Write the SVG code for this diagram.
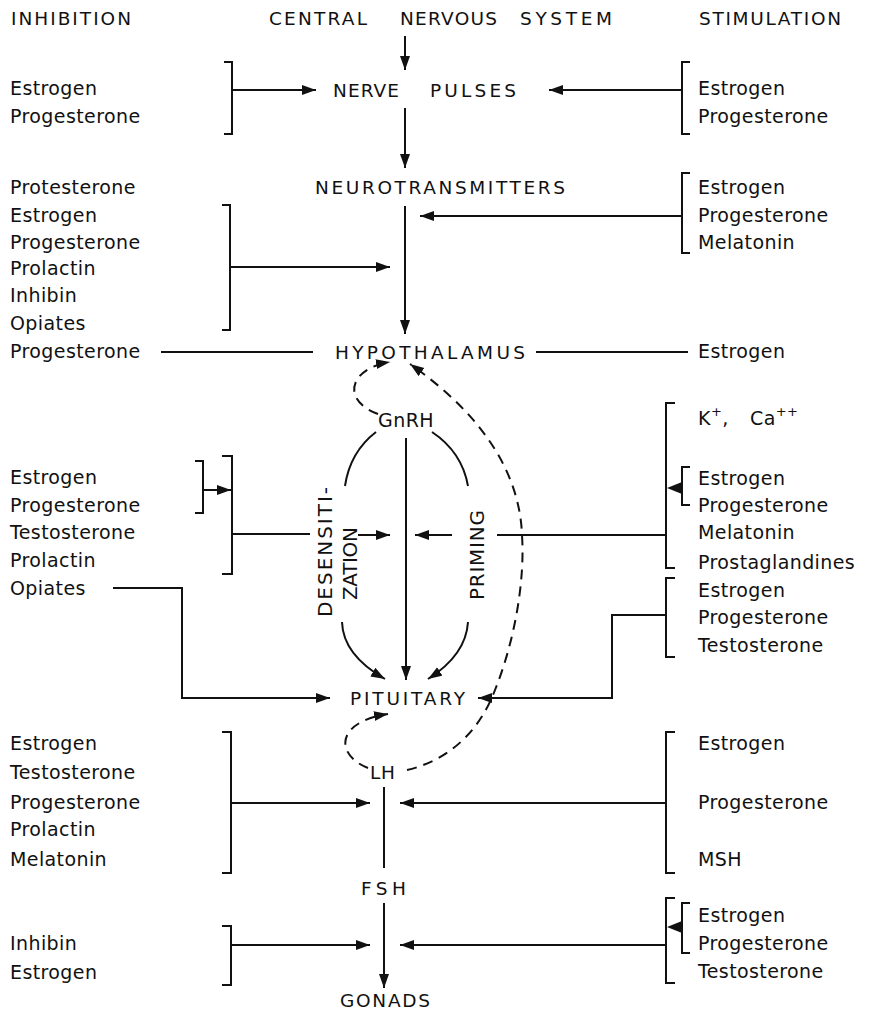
<svg xmlns="http://www.w3.org/2000/svg" width="873" height="1011" viewBox="0 0 873 1011">
<defs>
<marker id="ah" markerUnits="userSpaceOnUse" markerWidth="16" markerHeight="12" refX="14" refY="5" orient="auto">
<path d="M0,0 L14,5 L0,10 z" fill="#111"/>
</marker>
<style>
.t{font-family:"DejaVu Sans",sans-serif;font-size:19px;letter-spacing:0.4px;fill:#111}
.u{font-family:"DejaVu Sans",sans-serif;font-size:18.5px;fill:#111}
.r{font-family:"DejaVu Sans",sans-serif;font-size:20px;fill:#111}
.l{fill:none;stroke:#111;stroke-width:2}
.a{fill:none;stroke:#111;stroke-width:2;marker-end:url(#ah)}
.d{fill:none;stroke:#111;stroke-width:2;stroke-dasharray:10 7;marker-end:url(#ah)}
.f{fill:#111}
</style>
</defs>
<rect width="873" height="1011" fill="#fff"/>

<g id="headers">
<text class="u" x="11" y="25" textLength="120" lengthAdjust="spacing">INHIBITION</text>
<text class="u" x="269" y="25" textLength="98" lengthAdjust="spacing">CENTRAL</text>
<text class="u" x="400" y="25" textLength="97" lengthAdjust="spacing">NERVOUS</text>
<text class="u" x="520" y="25" textLength="92" lengthAdjust="spacing">SYSTEM</text>
<text class="u" x="699" y="25" textLength="142" lengthAdjust="spacing">STIMULATION</text>
</g>

<g id="nerve-pulses">
<text class="u" x="333" y="97" textLength="66" lengthAdjust="spacing">NERVE</text>
<text class="u" x="430" y="97" textLength="86" lengthAdjust="spacing">PULSES</text>
</g>
<g id="neurotransmitters">
<text class="u" x="315" y="194" textLength="250" lengthAdjust="spacing">NEUROTRANSMITTERS</text>
</g>
<g id="hypothalamus">
<text class="u" x="335" y="359" textLength="190" lengthAdjust="spacing">HYPOTHALAMUS</text>
</g>
<g id="gnrh">
<text class="t" x="406" y="427" text-anchor="middle">GnRH</text>
</g>
<g id="desensitization">
<text class="r" transform="translate(332,617) rotate(-90)" textLength="130" lengthAdjust="spacing">DESENSITI-</text>
<text class="r" transform="translate(357,600) rotate(-90)" textLength="73" lengthAdjust="spacing">ZATION</text>
</g>
<g id="priming">
<text class="r" transform="translate(484,600) rotate(-90)" textLength="90" lengthAdjust="spacing">PRIMING</text>
</g>
<g id="pituitary">
<text class="u" x="350" y="705" textLength="115" lengthAdjust="spacing">PITUITARY</text>
</g>
<g id="lh">
<text class="u" x="370" y="779" textLength="25" lengthAdjust="spacing">LH</text>
</g>
<g id="fsh">
<text class="u" x="361" y="895" textLength="45" lengthAdjust="spacing">FSH</text>
</g>
<g id="gonads">
<text class="u" x="340" y="1007" textLength="90" lengthAdjust="spacing">GONADS</text>
</g>

<g id="inhibitors">
<text class="t" x="10" y="95">Estrogen</text>
<text class="t" x="10" y="123">Progesterone</text>
<text class="t" x="10" y="194">Protesterone</text>
<text class="t" x="10" y="222">Estrogen</text>
<text class="t" x="10" y="249">Progesterone</text>
<text class="t" x="10" y="275">Prolactin</text>
<text class="t" x="10" y="302">Inhibin</text>
<text class="t" x="10" y="330">Opiates</text>
<text class="t" x="10" y="358">Progesterone</text>
<text class="t" x="10" y="484">Estrogen</text>
<text class="t" x="10" y="512">Progesterone</text>
<text class="t" x="10" y="539">Testosterone</text>
<text class="t" x="10" y="567">Prolactin</text>
<text class="t" x="10" y="595">Opiates</text>
<text class="t" x="10" y="750">Estrogen</text>
<text class="t" x="10" y="779">Testosterone</text>
<text class="t" x="10" y="809">Progesterone</text>
<text class="t" x="10" y="836">Prolactin</text>
<text class="t" x="10" y="866">Melatonin</text>
<text class="t" x="10" y="950">Inhibin</text>
<text class="t" x="10" y="979">Estrogen</text>
</g>

<g id="stimulators">
<text class="t" x="698" y="95">Estrogen</text>
<text class="t" x="698" y="123">Progesterone</text>
<text class="t" x="698" y="194">Estrogen</text>
<text class="t" x="698" y="222">Progesterone</text>
<text class="t" x="698" y="249">Melatonin</text>
<text class="t" x="698" y="358">Estrogen</text>
<text class="t" x="698" y="425">K<tspan dy="-9" font-size="13">+</tspan><tspan dy="9">,</tspan></text>
<text class="t" x="750" y="425">Ca<tspan dy="-9" font-size="13">++</tspan></text>
<text class="t" x="698" y="485">Estrogen</text>
<text class="t" x="698" y="512">Progesterone</text>
<text class="t" x="698" y="539">Melatonin</text>
<text class="t" x="698" y="569">Prostaglandines</text>
<text class="t" x="698" y="597">Estrogen</text>
<text class="t" x="698" y="624">Progesterone</text>
<text class="t" x="698" y="652">Testosterone</text>
<text class="t" x="698" y="750">Estrogen</text>
<text class="t" x="698" y="809">Progesterone</text>
<text class="t" x="698" y="866">MSH</text>
<text class="t" x="698" y="922">Estrogen</text>
<text class="t" x="698" y="950">Progesterone</text>
<text class="t" x="698" y="978">Testosterone</text>
</g>

<g id="connectors">
<path class="a" d="M405,36 V70"/>
<path class="a" d="M405,108 V168"/>
<path class="a" d="M405,206 V334"/>
<path class="a" d="M406,438 V680"/>
<path class="l" d="M384,787 V868"/>
<path class="a" d="M384,903 V988"/>

<path class="l" d="M224,62 H232 V134 H224"/>
<path class="a" d="M232,90 H316"/>
<path class="l" d="M690,62 H682 V134 H690"/>
<path class="a" d="M682,90 H549"/>

<path class="l" d="M222,205 H230 V330 H222"/>
<path class="a" d="M230,267 H390"/>
<path class="l" d="M690,173 H682 V253 H690"/>
<path class="a" d="M682,216 H420"/>

<path class="l" d="M161,352 H313"/>
<path class="l" d="M536,352 H688"/>

<path class="l" d="M376,432 Q350,452 345,486"/>
<path class="l" d="M432,432 Q462,452 468,486"/>
<path class="a" d="M342,622 Q343,655 385,679"/>
<path class="a" d="M468,622 Q466,655 428,679"/>

<path class="l" d="M195,461 H203 V513 H195"/>
<path class="a" d="M203,490 H231"/>
<path class="l" d="M222,456 H232 V574 H222"/>
<path class="l" d="M232,534 H310"/>
<path class="a" d="M358,535 H390"/>

<path class="l" d="M675,403 H666 V568 H675"/>
<path class="l" d="M690,467 H682 V505 H690"/>
<polygon class="f" points="682,482 682,494 667,488"/>
<path class="l" d="M666,535 H497"/>
<path class="a" d="M452,535 H415"/>
<path class="l" d="M675,578 H666 V657 H675"/>
<path class="a" d="M666,615 H612 V698 H478"/>

<path class="a" d="M113,588 H182 V698 H330"/>

<path class="l" d="M222,732 H231 V873 H222"/>
<path class="a" d="M231,803 H370"/>
<path class="l" d="M675,732 H666 V873 H675"/>
<path class="a" d="M666,803 H400"/>

<path class="l" d="M222,926 H231 V985 H222"/>
<path class="a" d="M231,945 H370"/>
<path class="l" d="M675,898 H666 V983 H675"/>
<path class="l" d="M690,903 H682 V953 H690"/>
<polygon class="f" points="682,921 682,933 667,927"/>
<path class="a" d="M666,945 H400"/>

<path class="d" d="M378,414 C340,400 350,368 390,362"/>
<path class="d" d="M407,770 C450,760 480,730 495,690 C515,640 525,580 522,535 C520,480 490,420 410,364"/>
<path class="d" d="M368,768 C335,755 335,722 388,714"/>
</g>
</svg>
